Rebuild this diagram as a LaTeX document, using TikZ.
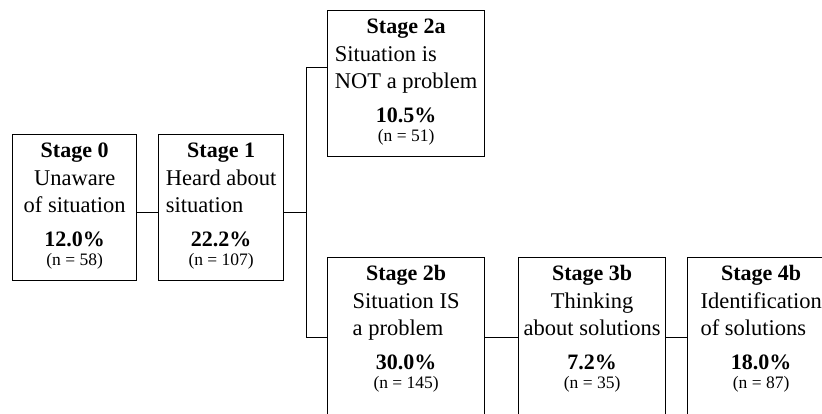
\documentclass[tikz,border=0pt]{standalone}
\usepackage{fontspec}
\setmainfont{Liberation Serif}
\usepackage{tikz}
\newcommand{\stage}[8]{%
  \node[stagebox,#2] (#1) at (#3) {};
  \node[ttl] (#1t) at ([yshift=-23pt]#1.north) {#4};
  \node[dsc,align=#5] (#1d) at ([yshift=-78pt]#1.north) {#6};
  \node[pct] (#1p) at ([yshift=-112pt]#1.north) {#7};
  \node[cnt] (#1n) at ([yshift=-131pt]#1.north) {#8};
}

\begin{document}
\begin{tikzpicture}[x=1pt,y=-1pt,
    stagebox/.style={draw,line width=1.3pt,anchor=north west,inner sep=0pt,minimum height=146pt},
    ttl/.style={anchor=base,inner sep=0pt,font=\fontsize{22}{26}\selectfont\bfseries},
    dsc/.style={anchor=base,inner sep=0pt,font=\fontsize{22.5}{27}\selectfont},
    pct/.style={anchor=base,inner sep=0pt,font=\fontsize{22}{26}\selectfont\bfseries},
    cnt/.style={anchor=base,inner sep=0pt,font=\fontsize{17.5}{20}\selectfont},
    link/.style={line width=1pt}]
  \useasboundingbox (0,0) rectangle (822,413);
  \clip (0,0) rectangle (822,413);
  % stages
  \stage{s0}{minimum width=124pt}{12,134}{Stage 0}{center}{Unaware\\of situation}{12.0\%}{(n = 58)}
  \stage{s1}{minimum width=125pt}{158,134}{Stage 1}{left}{Heard about\\situation}{22.2\%}{(n = 107)}
  \stage{s2a}{minimum width=157pt}{327,10}{Stage 2a}{left}{Situation is\\NOT a problem}{10.5\%}{(n = 51)}
  \stage{s2b}{minimum width=157pt,minimum height=160pt}{327,257}{Stage 2b}{left}{Situation IS\\a problem}{30.0\%}{(n = 145)}
  \stage{s3b}{minimum width=147pt,minimum height=160pt}{518,257}{Stage 3b}{center}{Thinking\\about solutions}{7.2\%}{(n = 35)}
  \stage{s4b}{minimum width=147pt,minimum height=160pt}{687,257}{Stage 4b}{left}{Identification\\of solutions}{18.0\%}{(n = 87)}
  % links
  \coordinate (fork) at ([xshift=22pt,yshift=-5pt]s1.east);
  \draw[link] ([yshift=-5pt]s0.east) -- ([yshift=-5pt]s1.west);
  \draw[link] ([yshift=-5pt]s1.east) -- (fork);
  \draw[link] ([yshift=16pt]s2a.west) -| (fork) |- (s2b.west);
  \draw[link] (s2b.east) -- (s3b.west);
  \draw[link] (s3b.east) -- (s4b.west);
\end{tikzpicture}
\end{document}
